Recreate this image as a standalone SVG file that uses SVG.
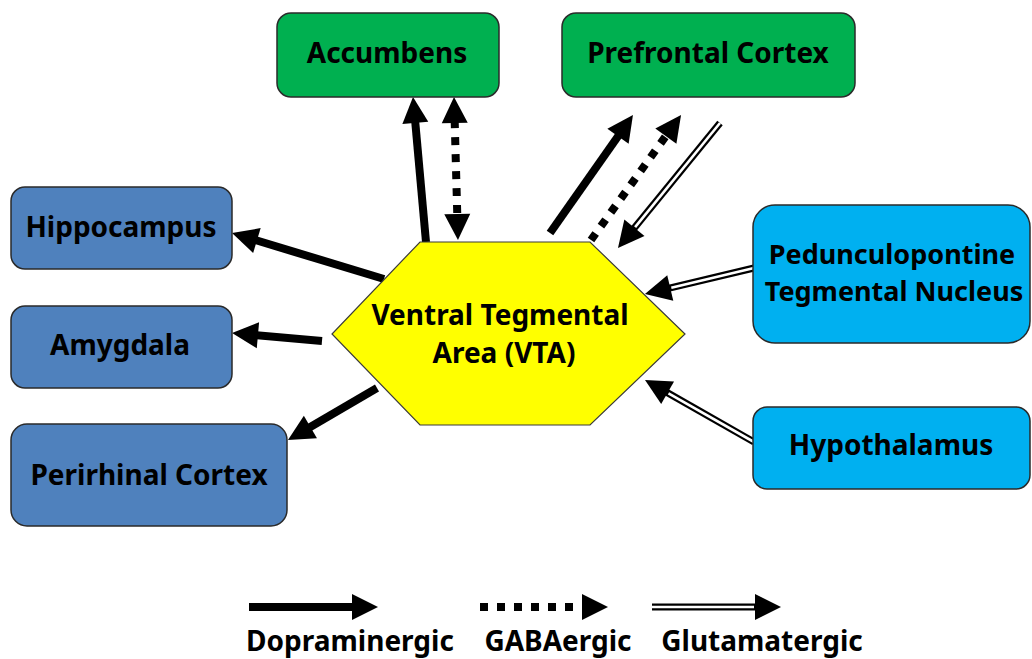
<svg xmlns="http://www.w3.org/2000/svg" width="1032" height="659" viewBox="0 0 1032 659">
<style>
  text { font-family: "Noto Sans", "Open Sans", "DejaVu Sans", sans-serif; font-weight: bold; font-size: 28px; fill: #000; text-anchor: middle; }
  .box { stroke: #2a2a2a; stroke-width: 1.5; }
  .green { fill: #00B050; }
  .blue { fill: #4F81BD; }
  .cyan { fill: #00B0F0; }
  .solid { stroke: #000; stroke-width: 8; fill: none; marker-end: url(#ah); }
  .dot { stroke: #000; stroke-width: 8; fill: none; stroke-dasharray: 8 9; marker-end: url(#ah); }
  .glutB { stroke: #000; stroke-width: 7; fill: none; marker-end: url(#ah); }
  .glutW { stroke: #fff; stroke-width: 2.6; fill: none; }
</style>
<defs>
  <marker id="ah" markerUnits="userSpaceOnUse" markerWidth="30" markerHeight="30" refX="16" refY="13" orient="auto-start-reverse" overflow="visible">
    <path d="M0,0 L26,13 L0,26 Z" fill="#000"/>
  </marker>
</defs>
<rect width="1032" height="659" fill="#fff"/>
<g id="connectors">
  <path class="solid" d="M426,242 L413.9,107"/>
  <path class="dot" d="M457.7,230 L454.3,107" style="marker-start:url(#ah)"/>
  <path class="solid" d="M550,233 L627.2,123.2"/>
  <path class="dot" d="M591,240 L675.2,123.1"/>
  <path class="glutB" d="M720,123 L624.3,240.2"/>
  <path class="glutW" d="M720,123 L635.1,227.1"/>
  <path class="glutB" d="M754,268 L654.7,291.7"/>
  <path class="glutW" d="M754,268 L671.3,287.7"/>
  <path class="glutB" d="M754,442 L653.7,384.9"/>
  <path class="glutW" d="M754,442 L668.5,393.3"/>
  <path class="solid" d="M384,279 L241.6,235.9"/>
  <path class="solid" d="M322,341 L242,333.9"/>
  <path class="solid" d="M377,388 L296.6,435"/>
</g>
<g id="vta">
  <polygon points="420,242 590,242 685,334 590,425 420,425 332,334" fill="#FFFF00" stroke="#3a3a3a" stroke-width="1.2"/>
  <text x="500" y="325">Ventral Tegmental</text>
  <text x="504" y="363">Area (VTA)</text>
</g>
<g id="accumbens">
  <rect class="box green" x="277" y="13" width="222" height="84" rx="14"/>
  <text x="387" y="63">Accumbens</text>
</g>
<g id="prefrontal">
  <rect class="box green" x="562" y="13" width="293" height="84" rx="14"/>
  <text x="708" y="63">Prefrontal Cortex</text>
</g>
<g id="hippocampus">
  <rect class="box blue" x="11" y="187" width="221" height="82" rx="14"/>
  <text x="121" y="237">Hippocampus</text>
</g>
<g id="amygdala">
  <rect class="box blue" x="11" y="306" width="221" height="82" rx="14"/>
  <text x="120" y="355">Amygdala</text>
</g>
<g id="perirhinal">
  <rect class="box blue" x="11" y="424" width="276" height="102" rx="16"/>
  <text x="149" y="485">Perirhinal Cortex</text>
</g>
<g id="pptn">
  <rect class="box cyan" x="753" y="205" width="277" height="138" rx="22"/>
  <text x="892" y="264" style="font-size:27px">Pedunculopontine</text>
  <text x="894" y="301" style="font-size:27px">Tegmental Nucleus</text>
</g>
<g id="hypothalamus">
  <rect class="box cyan" x="753" y="407" width="277" height="82" rx="14"/>
  <text x="891" y="455">Hypothalamus</text>
</g>
<g id="legend">
  <path class="solid" d="M249,607 L368,607"/>
  <path class="dot" d="M480,607 L598,607"/>
  <path class="glutB" d="M652,607 L771,607"/>
  <path class="glutW" d="M652,607 L754,607"/>
  <text x="350" y="651">Dopraminergic</text>
  <text x="558" y="651">GABAergic</text>
  <text x="762" y="651">Glutamatergic</text>
</g>
</svg>
